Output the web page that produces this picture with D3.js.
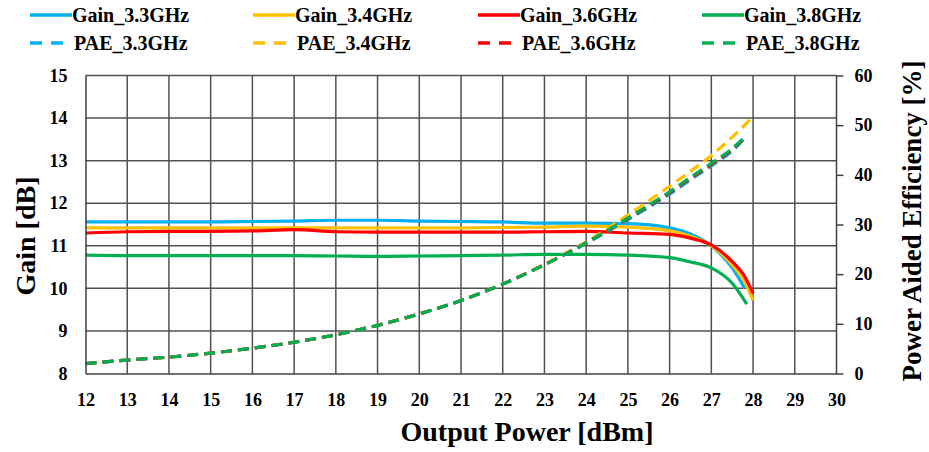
<!DOCTYPE html>
<html>
<head>
<meta charset="utf-8">
<script src="https://cdn.jsdelivr.net/npm/d3@7"></script>
<style>
  body { margin: 0; background: #fff; }
  svg text { font-family: "Liberation Serif", "Times New Roman", Times, "DejaVu Serif", serif; font-weight: bold; fill: #000; }
</style>
</head>
<body>
<svg id="chart" width="929" height="452"></svg>
<script>
// data
const freqs = ["3.3GHz", "3.4GHz", "3.6GHz", "3.8GHz"];
const colors = ["#00B0F0", "#FFC000", "#FF0000", "#00B050"];
const pout = [12, 13, 14, 15, 16, 17, 18, 19, 20, 21, 22, 23, 24, 25, 26, 26.5, 27, 27.5];

// gain [dB], last points are the curve ends past 27.5 dBm
const gain33 = [11.56, 11.56, 11.56, 11.56, 11.57, 11.58, 11.60, 11.60, 11.58, 11.57, 11.56, 11.53, 11.53, 11.52, 11.42, 11.28, 11.00, 10.48];
const gain34 = [11.42, 11.42, 11.42, 11.42, 11.42, 11.42, 11.42, 11.42, 11.42, 11.42, 11.43, 11.44, 11.46, 11.44, 11.35, 11.22, 11.00, 10.55];
const gain36 = [11.30, 11.33, 11.34, 11.34, 11.35, 11.38, 11.33, 11.32, 11.32, 11.32, 11.32, 11.33, 11.34, 11.30, 11.27, 11.18, 11.02, 10.63];
const gain38 = [10.78, 10.77, 10.77, 10.77, 10.77, 10.77, 10.76, 10.75, 10.76, 10.77, 10.78, 10.80, 10.80, 10.78, 10.72, 10.62, 10.48, 10.12];
const gainTailX = [[27.8], [27.8, 28.0], [27.8, 28.0], [27.85]];
const gainTailY = [[10.0], [10.15, 9.72], [10.28, 9.88], [9.63]];

// PAE [%]
const pae33 = [2.0, 2.7, 3.3, 4.1, 5.1, 6.3, 7.8, 9.7, 12.0, 14.7, 18.0, 21.9, 26.2, 31.0, 36.1, 39.0, 41.8, 44.8];
const pae34 = [2.0, 2.7, 3.3, 4.1, 5.1, 6.3, 7.8, 9.7, 12.0, 14.7, 18.0, 22.0, 26.5, 31.9, 37.7, 40.7, 43.9, 47.6];
const pae36 = [2.0, 2.7, 3.3, 4.1, 5.1, 6.3, 7.8, 9.7, 12.0, 14.7, 18.0, 21.9, 26.3, 31.2, 36.4, 39.3, 42.1, 45.1];
const pae38 = [2.0, 2.7, 3.3, 4.1, 5.1, 6.3, 7.8, 9.7, 12.0, 14.7, 18.0, 21.9, 26.3, 31.3, 36.6, 39.5, 42.3, 45.3];
const paeTailX = [[27.8], [28.0], [27.85], [27.85]];
const paeTailY = [[47.4], [51.7], [48.0], [48.0]];

const xTicks = d3.range(12, 31, 1);
const gainTicks = d3.range(8, 16, 1);
const paeTicks = d3.range(0, 61, 10);

const font = '"Liberation Serif", "Times New Roman", Times, "DejaVu Serif", serif';
const svg = d3.select("#chart");
const pLeft = 85.5, pRight = 836.5, pTop = 75.5, pBottom = 373.5;

const x = d3.scaleLinear().domain([12, 30]).range([pLeft, pRight]);
const yGain = d3.scaleLinear().domain([8, 15]).range([pBottom, pTop]);
const yPae = d3.scaleLinear().domain([0, 60]).range([pBottom, pTop]);

// grid
svg.append("g").selectAll("line").data(xTicks.slice(1, -1)).join("line")
  .attr("x1", d => x(d)).attr("x2", d => x(d))
  .attr("y1", pTop).attr("y2", pBottom)
  .attr("stroke", "#505050").attr("stroke-width", 1.5);
svg.append("g").selectAll("line").data(gainTicks.slice(1)).join("line")
  .attr("x1", pLeft).attr("x2", pRight)
  .attr("y1", d => yGain(d)).attr("y2", d => yGain(d))
  .attr("stroke", "#505050").attr("stroke-width", 1.5);

const gains = [gain33, gain34, gain36, gain38];
const paes = [pae33, pae34, pae36, pae38];

function points(ys, tx, ty) {
  return pout.map((p, i) => [p, ys[i]]).concat(tx.map((p, i) => [p, ty[i]]));
}

const gainLine = d3.line().x(d => x(d[0])).y(d => yGain(d[1])).curve(d3.curveMonotoneX);
const paeLine = d3.line().x(d => x(d[0])).y(d => yPae(d[1])).curve(d3.curveMonotoneX);

svg.append("g").selectAll("path").data(gains).join("path")
  .attr("d", (d, i) => gainLine(points(d, gainTailX[i], gainTailY[i])))
  .attr("fill", "none")
  .attr("stroke", (d, i) => colors[i])
  .attr("stroke-width", 3.2);

svg.append("g").selectAll("path").data(paes).join("path")
  .attr("d", (d, i) => paeLine(points(d, paeTailX[i], paeTailY[i])))
  .attr("fill", "none")
  .attr("stroke", (d, i) => colors[i])
  .attr("stroke-width", 3.2)
  .attr("stroke-dasharray", "11,6");

// axes
const axL = svg.append("g").attr("transform", `translate(${pLeft},0)`)
  .call(d3.axisLeft(yGain).tickValues(gainTicks).tickFormat(d3.format("d")).tickSize(0).tickPadding(18));
const axB = svg.append("g").attr("transform", `translate(0,${pBottom})`)
  .call(d3.axisBottom(x).tickValues(xTicks).tickFormat(d3.format("d")).tickSize(0).tickPadding(20));
const axR = svg.append("g").attr("transform", `translate(${pRight},0)`)
  .call(d3.axisRight(yPae).tickValues(paeTicks).tickFormat(d3.format("d")).tickSize(7).tickPadding(11));

[axL, axB, axR].forEach(a => {
  a.attr("font-family", font).attr("font-weight", "bold");
  a.select(".domain").attr("stroke", "#404040").attr("stroke-width", 1.5);
  a.selectAll(".tick line").attr("stroke", "#404040").attr("stroke-width", 1.5);
  a.selectAll("text").style("font-size", "18px").style("font-family", font);
});
axR.select(".domain").attr("d", `M0,${pTop}V${pBottom}`);

// axis titles
svg.append("text")
  .attr("transform", "translate(35,236) rotate(-90)")
  .attr("text-anchor", "middle").style("font-size", "28px").style("font-family", font)
  .text("Gain [dB]");
svg.append("text")
  .attr("x", 527).attr("y", 441)
  .attr("text-anchor", "middle").style("font-size", "28px").style("font-family", font)
  .text("Output Power [dBm]");
svg.append("text")
  .attr("transform", "translate(921,221) rotate(-90)")
  .attr("text-anchor", "middle").style("font-size", "27px").style("font-family", font)
  .text("Power Aided Efficiency [%]");

// legend
const legX = [30, 253, 478, 702];
const leg = svg.append("g");
freqs.forEach((f, i) => {
  leg.append("line")
    .attr("x1", legX[i]).attr("x2", legX[i] + 42)
    .attr("y1", 15).attr("y2", 15)
    .attr("stroke", colors[i]).attr("stroke-width", 3.5);
  leg.append("text")
    .attr("x", legX[i] + 42).attr("y", 22)
    .style("font-size", "20px").style("font-family", font)
    .text("Gain_" + f);
  leg.append("line")
    .attr("x1", legX[i]).attr("x2", legX[i] + 34)
    .attr("y1", 43).attr("y2", 43)
    .attr("stroke", colors[i]).attr("stroke-width", 3.5)
    .attr("stroke-dasharray", "12,9");
  leg.append("text")
    .attr("x", legX[i] + 44).attr("y", 50)
    .style("font-size", "20px").style("font-family", font)
    .text("PAE_" + f);
});
</script>
</body>
</html>
